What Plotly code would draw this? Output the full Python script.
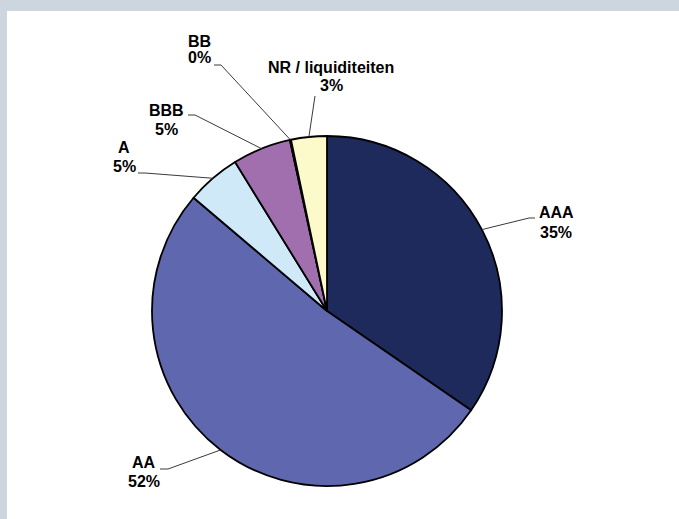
import math
import plotly.graph_objects as go

# ---- data ----
labels = ["AAA", "AA", "A", "BBB", "BB", "NR / liquiditeiten"]
values = [34.6, 51.6, 5.0, 5.4, 0.1, 3.3]
colors = ["#1e2a5c", "#5f67ae", "#cfe9f9", "#a26fae", "#a26fae", "#fcf9cb"]

W, H = 679, 519
CX, CY, R = 327, 311, 175  # pie centre / radius in pixels

# label layout (pixels): name line centre, pct line centre, knee point, line end near text
label_layout = {
    "AAA": dict(t1=(556, 213), t2=(556, 232), knee=(529, 218), end=(535, 218)),
    "AA": dict(t1=(144, 462), t2=(144, 481), knee=(168, 469), end=(160, 469)),
    "A": dict(t1=(124, 148), t2=(124, 166), knee=(145, 173), end=(138, 173)),
    "BBB": dict(t1=(166, 111), t2=(166, 129), knee=(195, 115), end=(188, 115)),
    "BB": dict(t1=(199, 41), t2=(199, 57), knee=(221, 65), end=(214, 65)),
    "NR / liquiditeiten": dict(t1=(331, 68), t2=(331, 86), knee=(315, 96), end=(315, 96)),
}

def px(x):
    return x / W

def py(y):
    return 1 - y / H

fig = go.Figure(go.Pie(
    labels=labels,
    values=values,
    sort=False,
    direction="clockwise",
    rotation=0,
    marker=dict(colors=colors, line=dict(color="#000000", width=1.8)),
    textinfo="none",
    hoverinfo="label+percent",
    showlegend=False,
    domain=dict(x=[px(CX - R), px(CX + R)], y=[py(CY + R), py(CY - R)]),
))

total = sum(values)
cum = 0.0
annotations = []
shapes = [dict(type="rect", xref="paper", yref="paper", x0=px(7), x1=1.0, y0=0.0, y1=py(11),
               fillcolor="white", line=dict(width=0), layer="below")]
font = dict(family="Liberation Sans, Arial, sans-serif", size=16, color="#000000")
for lab, v in zip(labels, values):
    mid = (cum + v / 2) / total * 2 * math.pi
    cum += v
    ex = CX + R * math.sin(mid)
    ey = CY - R * math.cos(mid)
    lay = label_layout[lab]
    kx, ky = lay["knee"]
    nx, ny = lay["end"]
    shapes.append(dict(
        type="path", xref="paper", yref="paper",
        path=f"M {px(ex)} {py(ey)} L {px(kx)} {py(ky)} L {px(nx)} {py(ny)}",
        line=dict(color="#3a3a3a", width=1),
    ))
    pct = f"{round(v / total * 100):d}%"
    for (tx, ty), txt in ((lay["t1"], lab), (lay["t2"], pct)):
        annotations.append(dict(
            x=px(tx), y=py(ty), xref="paper", yref="paper", text=f"<b>{txt}</b>",
            showarrow=False, xanchor="center", yanchor="middle", font=font,
        ))

fig.update_layout(
    width=W, height=H,
    margin=dict(l=0, r=0, t=0, b=0),
    paper_bgcolor="#cdd5de",
    shapes=shapes,
    annotations=annotations,
)

fig.write_html(
    "out.html",
    config={"displayModeBar": False},
    post_script="document.body.style.margin='0';document.body.style.overflow='hidden';",
)
